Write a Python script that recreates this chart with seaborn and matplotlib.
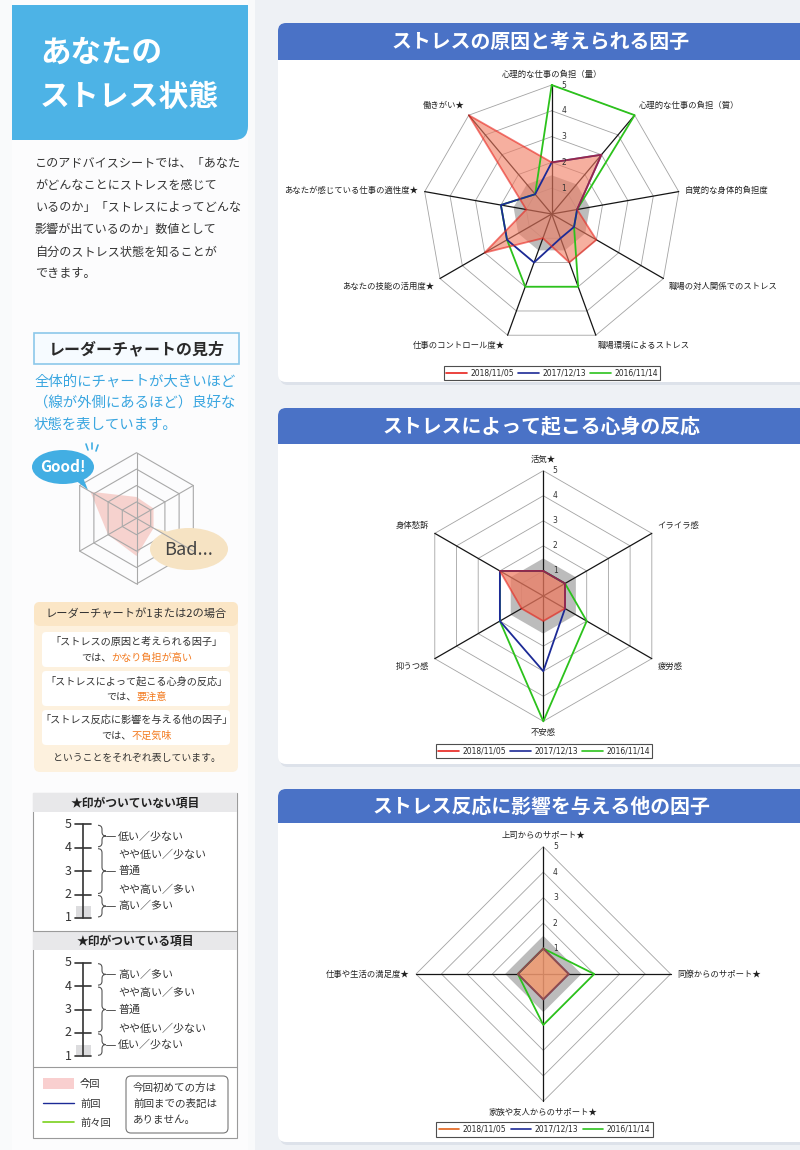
import numpy as np
import matplotlib
matplotlib.use("Agg")
import matplotlib.pyplot as plt
from matplotlib.patches import FancyBboxPatch, Rectangle, Ellipse, Polygon, PathPatch
from matplotlib.path import Path
from matplotlib.lines import Line2D
import seaborn as sns

sns.set_theme(style="white")
plt.rcParams['font.family'] = ['Noto Sans CJK JP', 'DejaVu Sans']

# ---------------- data ----------------
dates = ["2018/11/05", "2017/12/13", "2016/11/14"]

cause_title = "ストレスの原因と考えられる因子"
cause_labels = ["心理的な仕事の負担（量）", "心理的な仕事の負担（質）", "自覚的な身体的負担度",
                "職場の対人関係でのストレス", "職場環境によるストレス", "仕事のコントロール度★",
                "あなたの技能の活用度★", "あなたが感じている仕事の適性度★", "働きがい★"]
cause_2018 = [2, 3, 1, 2, 2, 1, 3, 1, 5]
cause_2017 = [2, 3, 1, 1, 1, 2, 2, 2, 1]
cause_2016 = [5, 5, 1, 1, 3, 3, 2, 2, 1]

reaction_title = "ストレスによって起こる心身の反応"
reaction_labels = ["活気★", "イライラ感", "疲労感", "不安感", "抑うつ感", "身体愁訴"]
reaction_2018 = [1, 1, 1, 1, 1, 2]
reaction_2017 = [1, 1, 1, 3, 2, 2]
reaction_2016 = [1, 1, 2, 5, 2, 2]

support_title = "ストレス反応に影響を与える他の因子"
support_labels = ["上司からのサポート★", "同僚からのサポート★",
                  "家族や友人からのサポート★", "仕事や生活の満足度★"]
support_2018 = [1, 1, 1, 1]
support_2017 = [1, 1, 1, 1]
support_2016 = [1, 2, 2, 1]

radial_ticks = [1, 2, 3, 4, 5]
caution_level = 1.5

sample_rings = [1, 2, 3, 4]
sample_values = [1.3, 1.2, 1.2, 2.3, 2.0, 3.25]

scale_ticks = [5, 4, 3, 2, 1]
scale_label_pos = [4.5, 3.7, 3.0, 2.2, 1.5]
plain_scale_labels = ["低い／少ない", "やや低い／少ない", "普通", "やや高い／多い", "高い／多い"]
star_scale_labels = ["高い／多い", "やや高い／多い", "普通", "やや低い／少ない", "低い／少ない"]
brace_spans = [(5, 4), (4, 2), (2, 1)]

intro_lines = ["このアドバイスシートでは、「あなた", "がどんなことにストレスを感じて",
               "いるのか」「ストレスによってどんな", "影響が出ているのか」数値として",
               "自分のストレス状態を知ることが", "できます。"]
blue_lines = ["全体的にチャートが大きいほど", "（線が外側にあるほど）良好な", "状態を表しています。"]
note_boxes = [("「ストレスの原因と考えられる因子」", "かなり負担が高い"),
              ("「ストレスによって起こる心身の反応」", "要注意"),
              ("「ストレス反応に影響を与える他の因子」", "不足気味")]

RED, BLUE, GREEN = '#e8231c', '#1c2a96', '#2cc21c'

# ---------------- figure ----------------
W, H = 800, 1150
fig = plt.figure(figsize=(W / 100, H / 100), dpi=100)
fig.patch.set_facecolor('#f9fafb')
bg = fig.add_axes([0, 0, 1, 1])
bg.set_xlim(0, W)
bg.set_ylim(H, 0)
bg.axis('off')


def T(x, y, s, size, color='#333333', ha='left', va='center', weight='normal', **kw):
    bg.text(x, y, s, fontsize=size, color=color, ha=ha, va=va, fontweight=weight, **kw)


# page background
bg.add_patch(Rectangle((255, 0), W - 255, H, fc='#eef1f5', ec='none'))
bg.add_patch(Rectangle((12, 0), 236, H, fc='#fcfcfd', ec='none'))

# left header
bg.add_patch(FancyBboxPatch((12, 5), 236, 135, boxstyle='round,pad=0,rounding_size=14',
                            fc='#4db3e6', ec='none'))
bg.add_patch(Rectangle((12, 5), 236, 40, fc='#4db3e6', ec='none'))
bg.add_patch(Rectangle((12, 5), 40, 135, fc='#4db3e6', ec='none'))
T(40, 53, "あなたの", 22, color='white', weight='bold')
T(40, 97, "ストレス状態", 21.5, color='white', weight='bold')

for i, line in enumerate(intro_lines):
    T(35, 164 + 22 * i, line, 8.7)

# radar guide box
bg.add_patch(Rectangle((34, 333), 205, 31, fc='#f6fbff', ec='#8cc8ea', lw=1.2))
T(136.5, 349, "レーダーチャートの見方", 11.5, color='#2a2a2a', ha='center', weight='bold')
for i, line in enumerate(blue_lines):
    T(34, 382 + 21.5 * i, line, 10.4, color='#3aa6e0')

# illustration hexagon
icx, icy, iR = 136.5, 518.3, 65.6
ith = np.arange(6) * np.pi / 3
unit = iR / sample_rings[-1]
sv = np.asarray(sample_values)
bg.add_patch(Polygon(np.c_[icx + sv * unit * np.sin(ith), icy - sv * unit * np.cos(ith)],
                     closed=True, fc='#f4bcb6', ec='none', alpha=0.65))
for k in sample_rings:
    bg.add_patch(Polygon(np.c_[icx + k * unit * np.sin(ith), icy - k * unit * np.cos(ith)],
                         closed=True, fc='none', ec='#a9a9a9', lw=0.8))
for a in ith[:3]:
    bg.plot([icx - iR * np.sin(a), icx + iR * np.sin(a)],
            [icy + iR * np.cos(a), icy - iR * np.cos(a)], color='#a9a9a9', lw=0.8)

# Good bubble
bg.add_patch(Polygon([(70, 476), (88, 490), (80, 470)], closed=True, fc='#42aee3', ec='none'))
bg.add_patch(Ellipse((63, 467), 62, 34, fc='#42aee3', ec='none'))
T(63, 467, "Good!", 11, color='white', ha='center', weight='bold')
for (x1, y1, x2, y2) in [(86, 444, 88, 450), (92, 443, 92, 449), (98, 445, 96, 451)]:
    bg.plot([x1, x2], [y1, y2], color='#42aee3', lw=1.2)
# Bad bubble
bg.add_patch(Polygon([(168, 538), (154, 528), (176, 534)], closed=True, fc='#f6e3c3', ec='none'))
bg.add_patch(Ellipse((189, 549), 78, 42, fc='#f6e3c3', ec='none'))
T(189, 550, "Bad...", 13, color='#444444', ha='center')

# beige box
bg.add_patch(FancyBboxPatch((34, 602), 204, 170, boxstyle='round,pad=0,rounding_size=6',
                            fc='#fdf1de', ec='none'))
bg.add_patch(FancyBboxPatch((34, 602), 204, 24, boxstyle='round,pad=0,rounding_size=6',
                            fc='#fbe6c6', ec='none'))
T(136.5, 613, "レーダーチャートが1または2の場合", 8.1, color='#333333', ha='center')
cw = 7.3 * 100 / 72
for i, (head, warn) in enumerate(note_boxes):
    y0 = 632 + 39 * i
    bg.add_patch(FancyBboxPatch((42, y0), 188, 35, boxstyle='round,pad=0,rounding_size=4',
                                fc='white', ec='none'))
    T(136.5, y0 + 10, head, 7.3, ha='center')
    total = (3 + len(warn)) * cw
    sx = 136.5 - total / 2 + 3 * cw
    T(sx, y0 + 26, "では、", 7.3, ha='right')
    T(sx, y0 + 26, warn, 7.3, ha='left', color='#f37a1f')
T(136.5, 758, "ということをそれぞれ表しています。", 7.1, ha='center')

# scale box
bg.add_patch(Rectangle((33, 793), 204, 345, fc='white', ec='#9a9a9a', lw=0.8))
bg.add_patch(Rectangle((33, 793), 204, 19, fc='#e8e8ea', ec='none'))
bg.add_patch(Rectangle((33, 931), 204, 19, fc='#e8e8ea', ec='none'))
bg.plot([33, 237], [931, 931], color='#9a9a9a', lw=0.8)
bg.plot([33, 237], [1067, 1067], color='#9a9a9a', lw=0.8)
T(135, 803, "★印がついていない項目", 8.5, color='#222222', ha='center', weight='bold')
T(135, 941, "★印がついている項目", 8.5, color='#222222', ha='center', weight='bold')


def brace(x0, y1, y2, w=8, r=4):
    ym = (y1 + y2) / 2
    xm = x0 + w / 2
    verts = [(x0, y1), (xm, y1), (xm, y1 + r), (xm, ym - r), (xm, ym), (x0 + w, ym),
             (xm, ym), (xm, ym + r), (xm, y2 - r), (xm, y2), (x0, y2)]
    codes = [Path.MOVETO, Path.CURVE3, Path.CURVE3, Path.LINETO, Path.CURVE3, Path.CURVE3,
             Path.CURVE3, Path.CURVE3, Path.LINETO, Path.CURVE3, Path.CURVE3]
    bg.add_patch(PathPatch(Path(verts, codes), fc='none', ec='#555555', lw=0.8))
    bg.plot([x0 + w, x0 + w + 9], [ym, ym], color='#555555', lw=0.7)


def scale(y5, labels, step=23.4):
    ys = lambda v: y5 + (scale_ticks[0] - v) * step
    bg.add_patch(Rectangle((76, ys(1.5)), 15, ys(1) - ys(1.5) - 1, fc='#dcdcde', ec='none'))
    bg.plot([83, 83], [ys(scale_ticks[0]), ys(scale_ticks[-1])], color='#333333', lw=1.2)
    for v in scale_ticks:
        bg.plot([75, 91], [ys(v), ys(v)], color='#333333', lw=1.2)
        T(68, ys(v), str(v), 9, color='#333333', ha='center')
    for a, b in brace_spans:
        brace(98, ys(a) + 1, ys(b) - 1)
    for p, lab in zip(scale_label_pos, labels):
        T(118, ys(p), lab, 7.9)


scale(824.3, plain_scale_labels)
scale(962.7, star_scale_labels)

# legend in scale box
bg.add_patch(Rectangle((43, 1078), 31, 11, fc='#f9cfcf', ec='none'))
T(80, 1083.5, "今回", 7.4)
bg.plot([43, 74], [1103, 1103], color=BLUE, lw=1.0)
T(80, 1104, "前回", 7.4)
bg.plot([43, 74], [1122, 1122], color='#7ad11c', lw=1.2)
T(80, 1123, "前々回", 7.4)
bg.add_patch(FancyBboxPatch((126, 1076), 102, 57, boxstyle='round,pad=0,rounding_size=5',
                            fc='white', ec='#777777', lw=0.8))
for i, line in enumerate(["今回初めての方は", "前回までの表記は", "ありません。"]):
    T(133, 1088 + 16 * i, line, 7.6)


# cards
def card(y0, y1, hb, title):
    bg.add_patch(FancyBboxPatch((280, y0 + 3), 540, y1 - y0, boxstyle='round,pad=0,rounding_size=8',
                                fc='#dde2ea', ec='none'))
    bg.add_patch(FancyBboxPatch((278, y0), 540, y1 - y0, boxstyle='round,pad=0,rounding_size=8',
                                fc='white', ec='none'))
    bg.add_patch(FancyBboxPatch((278, y0), 540, hb, boxstyle='round,pad=0,rounding_size=8',
                                fc='#4a72c6', ec='none'))
    bg.add_patch(Rectangle((278, y0 + hb - 10), 540, 10, fc='#4a72c6', ec='none'))
    T(541, y0 + hb / 2, title, 14.3, color='white', ha='center', weight='bold')


card(23, 382, 37, cause_title)
card(408, 764, 36, reaction_title)
card(789, 1142, 34, support_title)


def radar(cx, cy, r5, labels, s18, s17, s16, c18, fill18, falpha, leg_xy):
    ppu = r5 / radial_ticks[-1]
    hw, hh = 200, 170
    ax = fig.add_axes([(cx - hw) / W, 1 - (cy + hh) / H, 2 * hw / W, 2 * hh / H])
    ax.set_xlim(-hw / ppu, hw / ppu)
    ax.set_ylim(-hh / ppu, hh / ppu)
    ax.axis('off')
    n = len(labels)
    th = np.arange(n) * 2 * np.pi / n
    ux, uy = np.sin(th), np.cos(th)

    def ring(vals):
        v = np.asarray(vals, float)
        x, y = v * ux, v * uy
        return np.r_[x, x[0]], np.r_[y, y[0]]

    gx, gy = ring([caution_level] * n)
    ax.fill(gx, gy, color='#bcbcbc', lw=0, zorder=1)
    rmax = radial_ticks[-1]
    for k in radial_ticks:
        x, y = ring([k] * n)
        ax.plot(x, y, color='#a3a3a3', lw=0.6, zorder=2)
        ax.text(0.38, k, str(k), fontsize=5.5, color='#333333', ha='left', va='center', zorder=6,
                family='DejaVu Sans')
    for i in range(n):
        ax.plot([0, rmax * ux[i]], [0, rmax * uy[i]], color='#151515', lw=0.9, zorder=2)
    x18, y18 = ring(s18)
    ax.fill(x18, y18, color=fill18, alpha=falpha, lw=0, zorder=3)
    for vals, col, a in [(s16, GREEN, 1.0), (s17, BLUE, 1.0), (s18, c18, 0.6)]:
        x, y = ring(vals)
        sns.lineplot(x=x, y=y, sort=False, estimator=None, color=col, lw=1.3, alpha=a,
                     ax=ax, zorder=4)
    for i, lab in enumerate(labels):
        r = rmax + 0.25
        ha = 'left' if ux[i] > 0.1 else ('right' if ux[i] < -0.1 else 'center')
        va = 'bottom' if uy[i] > 0.3 else ('top' if uy[i] < -0.3 else 'center')
        ax.text(r * ux[i], r * uy[i], lab, fontsize=6, ha=ha, va=va, color='#222222')
    handles = [Line2D([], [], color=c, lw=1.2) for c in (c18, BLUE, GREEN)]
    leg = ax.legend(handles, dates, loc='center', bbox_to_anchor=(leg_xy[0] / W, 1 - leg_xy[1] / H),
                    bbox_transform=fig.transFigure, ncol=3, frameon=True, fancybox=False,
                    edgecolor='#222222', prop={'family': 'DejaVu Sans', 'size': 5.5},
                    handlelength=2.7, handletextpad=0.45, columnspacing=0.55, borderpad=0.35,
                    borderaxespad=0)
    leg.get_frame().set_linewidth(0.8)
    leg.get_frame().set_facecolor('white')
    return ax


radar(551.7, 214, 129, cause_labels, cause_2018, cause_2017, cause_2016,
      RED, '#f07a60', 0.6, (552, 373))
radar(543.3, 596, 125.3, reaction_labels, reaction_2018, reaction_2017, reaction_2016,
      RED, '#f07a60', 0.72, (544, 751))
radar(543.3, 974, 127.3, support_labels, support_2018, support_2017, support_2016,
      '#e2621a', '#f29a70', 0.85, (544.5, 1129.5))

fig.savefig("out.png", dpi=100)
